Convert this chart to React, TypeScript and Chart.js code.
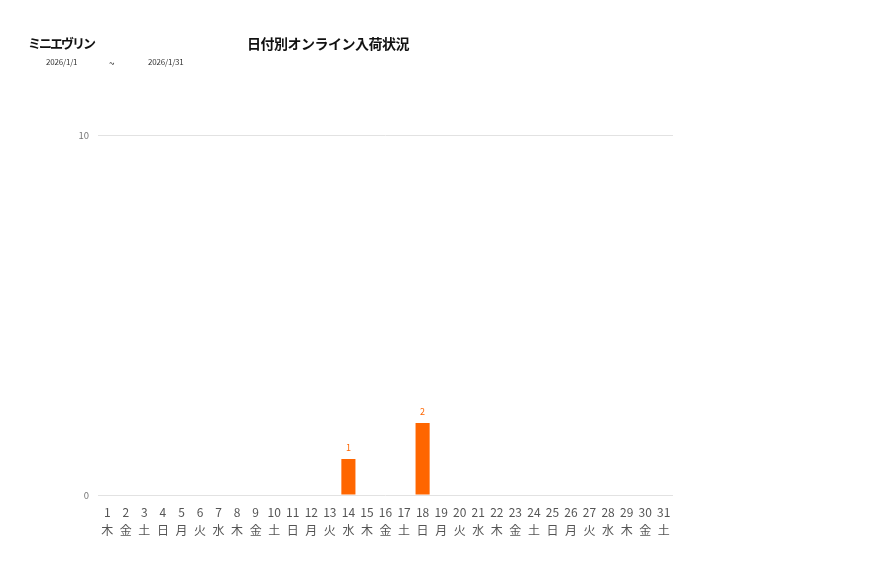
import React, { useEffect, useRef } from "react";
import { Chart, registerables } from "chart.js";

Chart.register(...registerables);

const days: string[] = ["1","2","3","4","5","6","7","8","9","10","11","12","13","14","15","16","17","18","19","20","21","22","23","24","25","26","27","28","29","30","31"];
const weekdays: string[] = ["木","金","土","日","月","火","水","木","金","土","日","月","火","水","木","金","土","日","月","火","水","木","金","土","日","月","火","水","木","金","土"];
const arrivals: number[] = [0,0,0,0,0,0,0,0,0,0,0,0,0,1,0,0,0,2,0,0,0,0,0,0,0,0,0,0,0,0,0];
const yTicks: number[] = [0, 10];

const FONT = "'Noto Sans CJK JP', 'Noto Sans', sans-serif";
const ORANGE = "#ff6600";

const valueLabels = {
  id: "valueLabels",
  afterDatasetsDraw(chart: any) {
    const ctx = chart.ctx;
    const meta = chart.getDatasetMeta(0);
    ctx.save();
    ctx.font = `9px ${FONT}`;
    ctx.fillStyle = ORANGE;
    ctx.textAlign = "center";
    ctx.textBaseline = "middle";
    meta.data.forEach((bar: any, i: number) => {
      const v = arrivals[i];
      if (v > 0) ctx.fillText(String(v), bar.x, bar.y - 11);
    });
    ctx.restore();
  },
};

export default function App() {
  const ref = useRef<HTMLCanvasElement | null>(null);
  useEffect(() => {
    if (!ref.current) return;
    const chart = new Chart(ref.current, {
      type: "bar",
      data: {
        labels: days.map((d, i) => [d, weekdays[i]]),
        datasets: [
          {
            data: arrivals,
            backgroundColor: ORANGE,
            borderWidth: 0,
            categoryPercentage: 0.76,
            barPercentage: 1,
          },
        ],
      },
      options: {
        animation: false,
        responsive: false,
        maintainAspectRatio: false,
        layout: { padding: { left: 60, right: 204, top: 135, bottom: 0 } },
        plugins: { legend: { display: false }, title: { display: false }, tooltip: { enabled: false } },
        scales: {
          x: {
            grid: { display: false, drawTicks: true },
            border: { display: false },
            ticks: {
              color: "#555",
              font: { family: FONT, size: 12, lineHeight: 1.5 },
              padding: 0,
              maxRotation: 0,
              autoSkip: false,
            },
            afterFit(scale: any) { scale.height = 83; },
          },
          y: {
            min: 0,
            max: 10,
            afterBuildTicks(scale: any) { scale.ticks = yTicks.map((v) => ({ value: v })); },
            grid: { color: "#e2e2e2", drawTicks: false },
            border: { display: false },
            ticks: {
              color: "#777",
              font: { family: FONT, size: 9.5 },
              padding: 9,
            },
            afterFit(scale: any) { scale.width = 38; },
          },
        },
      },
      plugins: [valueLabels],
    });
    return () => chart.destroy();
  }, []);

  return (
    <div style={{ position: "absolute", left: 0, top: 0, width: 877, height: 578, background: "#fff", fontFamily: FONT }}>
      <canvas ref={ref} width={877} height={578} style={{ position: "absolute", left: 0, top: 0, width: 877, height: 578 }} />
      <div style={{ position: "absolute", left: 28, top: 33, fontSize: 13, letterSpacing: -2, fontWeight: 700, color: "#111", whiteSpace: "nowrap" }}>ミニエヴリン</div>
      <div style={{ position: "absolute", left: 247, top: 33, fontSize: 14, letterSpacing: -0.5, fontWeight: 700, color: "#111", whiteSpace: "nowrap" }}>日付別オンライン入荷状況</div>
      <div style={{ position: "absolute", left: 46, top: 56, fontSize: 8, letterSpacing: -0.2, color: "#333", whiteSpace: "nowrap" }}>2026/1/1</div>
      <div style={{ position: "absolute", left: 109, top: 55, fontSize: 10, color: "#333", whiteSpace: "nowrap" }}>~</div>
      <div style={{ position: "absolute", left: 148, top: 56, fontSize: 8, letterSpacing: -0.2, color: "#333", whiteSpace: "nowrap" }}>2026/1/31</div>
    </div>
  );
}
